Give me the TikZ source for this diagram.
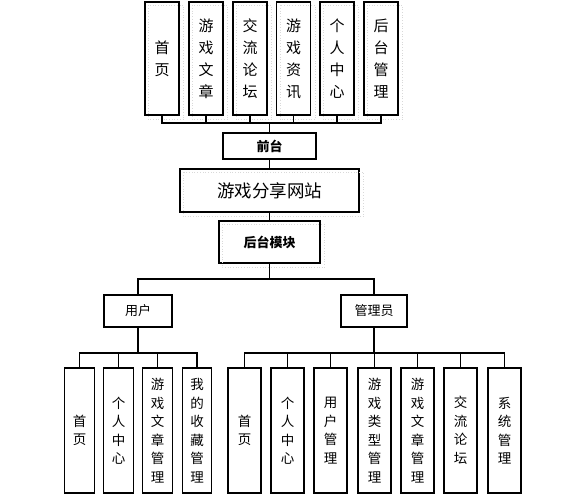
\documentclass[tikz,border=0pt]{standalone}
\usepackage{fontspec}
\setmainfont{Noto Sans CJK SC}
\begin{document}
\begin{tikzpicture}[x=1pt, y=-1pt, line width=1.3pt,
    top/.style = {draw, minimum width=34pt, minimum height=113pt, inner sep=0pt, align=center, font=\fontsize{15}{22}\selectfont},
    uleaf/.style = {draw, minimum width=29.5pt, minimum height=125pt, inner sep=0pt, align=center, font=\fontsize{13.5}{18.5}\selectfont},
    aleaf/.style = {uleaf, minimum width=33pt},
    mid/.style = {draw, inner sep=0pt, align=center},
    shade/.style = {gray!30, dotted, line width=0.7pt}]
    \useasboundingbox (0,0) rectangle (575,500);
    % front end
    \node[top] (t1) at (162,58.5) {首\\页};
    \node[top] (t2) at (206,58.5) {游\\戏\\文\\章};
    \node[top] (t3) at (250,58.5) {交\\流\\论\\坛};
    \node[top] (t4) at (293.5,58.5) {游\\戏\\资\\讯};
    \node[top] (t5) at (337,58.5) {个\\人\\中\\心};
    \node[top] (t6) at (381,58.5) {后\\台\\管\\理};
    \node[mid, minimum width=93pt, minimum height=26pt, font=\bfseries\fontsize{13}{15}\selectfont] (front) at (269.5,146) {前台};
    \node[mid, minimum width=179pt, minimum height=43pt, font=\fontsize{17.5}{20}\selectfont] (site) at (269.5,190.5) {游戏分享网站};
    \node[mid, minimum width=101pt, minimum height=42pt, font=\bfseries\fontsize{13}{15}\selectfont] (back) at (269.5,242) {后台模块};
    % back end
    \node[mid, minimum width=68pt, minimum height=32pt, font=\fontsize{13}{15}\selectfont] (user) at (138,311) {用户};
    \node[mid, minimum width=66pt, minimum height=32pt, font=\fontsize{13}{15}\selectfont] (admin) at (374,311) {管理员};
    \node[uleaf] (u1) at (79.5,430.5) {首\\页};
    \node[uleaf] (u2) at (118.5,430.5) {个\\人\\中\\心};
    \node[uleaf] (u3) at (157.5,430.5) {游\\戏\\文\\章\\管\\理};
    \node[uleaf] (u4) at (197,430.5) {我\\的\\收\\藏\\管\\理};
    \node[aleaf] (a1) at (244.5,430.5) {首\\页};
    \node[aleaf] (a2) at (287.5,430.5) {个\\人\\中\\心};
    \node[aleaf] (a3) at (330.5,430.5) {用\\户\\管\\理};
    \node[aleaf] (a4) at (374.5,430.5) {游\\戏\\类\\型\\管\\理};
    \node[aleaf] (a5) at (417.5,430.5) {游\\戏\\文\\章\\管\\理};
    \node[aleaf] (a6) at (460.5,430.5) {交\\流\\论\\坛};
    \node[aleaf] (a7) at (504.5,430.5) {系\\统\\管\\理};
    % dotted shadows
    \foreach \n in {t1,t2,t3,t4,t5,t6,site,back}
        \draw[shade] ([shift={(4,4)}]\n.north west) rectangle ([shift={(4,4)}]\n.south east);
    % connectors
    \coordinate (tb) at (269.5,123);
    \foreach \n in {t1,t2,t3,t4,t5,t6}
        \draw (\n.south) |- (tb);
    \draw (tb) -- (front.north);
    \draw (front) -- (site);
    \draw (site) -- (back);
    \coordinate (bb) at (269.5,279);
    \draw (back.south) -- (bb);
    \draw (user.north) |- (bb);
    \draw (admin.north) |- (bb);
    \coordinate (ub) at (138,353);
    \draw (user.south) -- (ub);
    \foreach \n in {u1,u2,u3,u4}
        \draw (\n.north) |- (ub);
    \coordinate (ab) at (374,353);
    \draw (admin.south) -- (ab);
    \foreach \n in {a1,a2,a3,a4,a5,a6,a7}
        \draw (\n.north) |- (ab);
\end{tikzpicture}
\end{document}
